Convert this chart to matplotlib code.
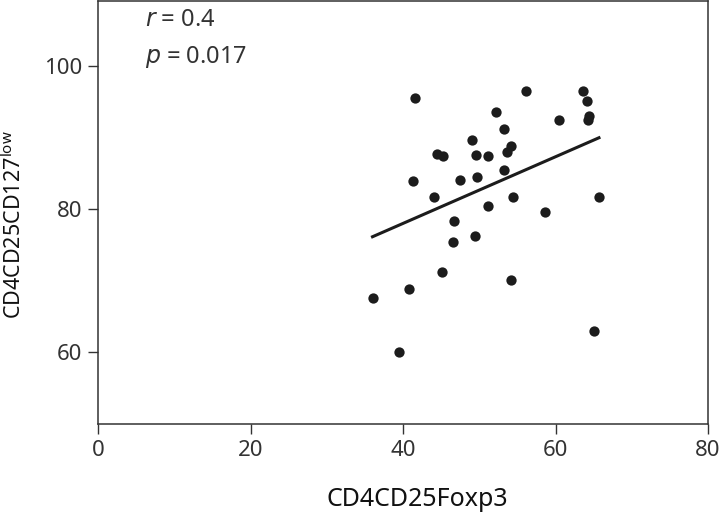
import numpy as np
import matplotlib
matplotlib.use("Agg")
import matplotlib.pyplot as plt

plt.rcParams['font.family'] = ['Noto Sans', 'DejaVu Sans']

x_foxp3 = [36.0, 39.5, 40.8, 41.3, 41.6, 44.1, 44.5, 45.3, 45.1, 46.6, 46.7, 47.5,
           49.0, 49.5, 49.6, 49.7, 51.1, 51.1, 52.2, 53.2, 53.2, 53.7, 54.2, 54.2,
           54.4, 56.1, 58.6, 60.4, 63.6, 64.1, 64.4, 64.2, 65.0, 65.7]
y_cd127 = [67.6, 60.1, 68.8, 83.9, 95.5, 81.6, 87.6, 87.4, 71.2, 75.4, 78.3, 84.0,
           89.6, 76.2, 87.5, 84.4, 80.4, 87.4, 93.5, 91.2, 85.4, 87.9, 88.8, 70.1,
           81.6, 96.4, 79.6, 92.4, 96.5, 95.0, 93.0, 92.4, 63.0, 81.7]

x_ticks = [0, 20, 40, 60, 80]
y_ticks = [60, 80, 100]
stats_text = [r"$\it{r}$ = 0.4", r"$\it{p}$ = 0.017"]

fig = plt.figure(figsize=(7.26, 5.12), dpi=100)
ax = fig.add_axes([98/726, 1-424/512, 610/726, 423/512])

dark = '#1c1c1c'
ax.scatter(x_foxp3, y_cd127, s=55, color=dark, zorder=3, linewidths=0)

xs = np.array(x_foxp3)
ys = np.array(y_cd127)
slope, intercept = np.polyfit(xs, ys, 1)
xl = np.array([xs.min(), xs.max()])
ax.plot(xl, slope * xl + intercept, color=dark, lw=2.2, zorder=2)

ax.set_xlim(0, 80)
ax.set_ylim(50, 109)
ax.set_xticks(x_ticks)
ax.set_yticks(y_ticks)
ax.tick_params(direction='out', length=7.5, width=1.0, color='#333333',
               labelsize=16, labelcolor='#333333', pad=4)
for sp in ax.spines.values():
    sp.set_linewidth(1.1)
    sp.set_color('#333333')

ax.set_xlabel("CD4CD25Foxp3", fontsize=18, color='#111111')
ax.xaxis.set_label_coords((417 - 98) / 610, (424 - 499) / 423)
ax.set_ylabel(r"CD4CD25CD127$^{\mathregular{low}}$", fontsize=15.5, color='#111111')
ax.yaxis.set_label_coords((14 - 98) / 610, (424 - 225) / 423)
ax.xaxis.label.set_va('center')
ax.yaxis.label.set_va('center')

ax.text(0.077, (424 - 20) / 423, stats_text[0], transform=ax.transAxes, fontsize=17,
        va='center', ha='left', color='#333333')
ax.text(0.077, (424 - 57) / 423, stats_text[1], transform=ax.transAxes, fontsize=17,
        va='center', ha='left', color='#333333')

fig.savefig("out.png", dpi=100)
